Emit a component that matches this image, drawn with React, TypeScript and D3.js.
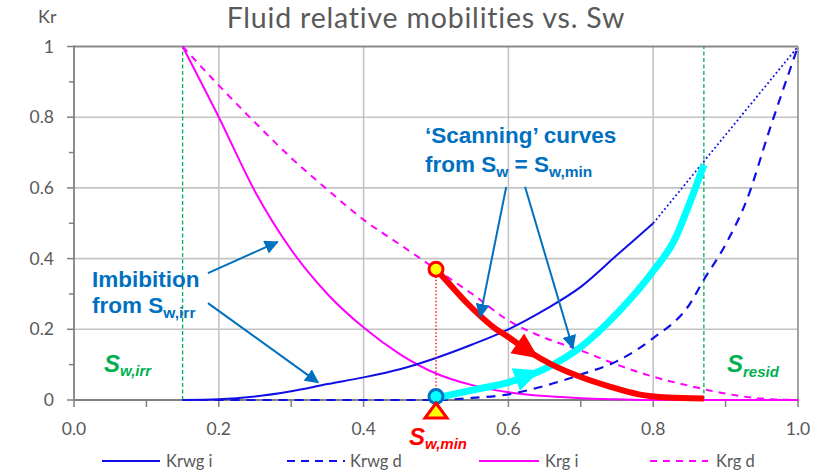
import React from "react";
import * as d3 from "d3";

// ---- Data ----
const swKrwgI = [0.15, 0.2, 0.25, 0.3, 0.35, 0.4, 0.45, 0.5, 0.55, 0.6, 0.65, 0.7, 0.75, 0.8];
const krwgI = [0, 0.002, 0.01, 0.025, 0.045, 0.064, 0.087, 0.119, 0.157, 0.2, 0.255, 0.32, 0.41, 0.5];
const swKrwgExt = [0.8, 1.0];
const krwgExt = [0.5, 1.0];
const swKrwgD = [0.15, 0.5, 0.55, 0.6, 0.65, 0.7, 0.75, 0.8, 0.85, 0.87, 0.9, 0.93, 0.96, 1.0];
const krwgD = [0, 0, 0.006, 0.016, 0.04, 0.072, 0.11, 0.175, 0.27, 0.34, 0.44, 0.57, 0.76, 1.0];
const swKrgI = [0.15, 0.2, 0.25, 0.3, 0.35, 0.4, 0.45, 0.5, 0.55, 0.6, 0.65, 0.7, 0.75, 0.8, 0.9, 1.0];
const krgI = [1.0, 0.8, 0.59, 0.425, 0.3, 0.205, 0.13, 0.075, 0.042, 0.022, 0.011, 0.005, 0.002, 0, 0, 0];
const swKrgD = [0.15, 0.2, 0.25, 0.3, 0.35, 0.4, 0.45, 0.5, 0.55, 0.6, 0.65, 0.7, 0.75, 0.8, 0.85, 0.9, 0.95, 1.0];
const krgD = [1.0, 0.89, 0.785, 0.685, 0.595, 0.51, 0.44, 0.37, 0.3, 0.225, 0.176, 0.14, 0.1, 0.066, 0.04, 0.018, 0.004, 0];
const swScanGas = [0.5, 0.52, 0.54, 0.56, 0.58, 0.6, 0.63, 0.66, 0.7, 0.74, 0.78, 0.82, 0.87];
const scanGas = [0.37, 0.325, 0.28, 0.24, 0.205, 0.178, 0.135, 0.1, 0.065, 0.038, 0.016, 0.007, 0.004];
const swScanWater = [0.5, 0.55, 0.6, 0.65, 0.7, 0.75, 0.8, 0.83, 0.85, 0.87];
const scanWater = [0.006, 0.028, 0.05, 0.088, 0.15, 0.245, 0.365, 0.455, 0.555, 0.665];

const swIrr = 0.15;
const swResid = 0.87;
const swMin = 0.5;
const krStart = 0.37;

const xTicks = [0, 0.2, 0.4, 0.6, 0.8, 1.0];
const xTickLabels = ["0.0", "0.2", "0.4", "0.6", "0.8", "1.0"];
const yTicks = [0, 0.2, 0.4, 0.6, 0.8, 1.0];
const yTickLabels = ["0", "0.2", "0.4", "0.6", "0.8", "1"];
const minorTicks = [0, 0.1, 0.2, 0.3, 0.4, 0.5, 0.6, 0.7, 0.8, 0.9, 1.0];

const legendLabels = ["Krwg i", "Krwg d", "Krg i", "Krg d"];

// annotation arrows in data coordinates [x1,y1,x2,y2]
const imbArrows = [
  [0.185, 0.359, 0.281, 0.447],
  [0.185, 0.274, 0.337, 0.05],
];
const scanArrows = [
  [0.597, 0.603, 0.561, 0.236],
  [0.623, 0.603, 0.689, 0.147],
];

const W = 820;
const H = 476;
const BLUE = "#1010e6";
const MAG = "#ff00ff";
const GRAY_TXT = "#595959";
const ANNO = "#0070c0";
const GREEN = "#00b050";

const x = d3.scaleLinear().domain([0, 1]).range([74, 798]);
const y = d3.scaleLinear().domain([0, 1]).range([400, 46.5]);

function pathOf(xs: number[], ys: number[], curve: any = d3.curveLinear) {
  const pts = xs.map((v, i) => [v, ys[i]] as [number, number]);
  return d3
    .line<[number, number]>()
    .x((d) => x(d[0]))
    .y((d) => y(d[1]))
    .curve(curve)(pts) as string;
}

function arrowHead(xs: number[], ys: number[], sw: number, len: number, wid: number) {
  let i = 0;
  while (i < xs.length - 2 && xs[i + 1] < sw) i++;
  const t = (sw - xs[i]) / (xs[i + 1] - xs[i]);
  const x0 = x(xs[i]), y0 = y(ys[i]), x1 = x(xs[i + 1]), y1 = y(ys[i + 1]);
  const px = x0 + (x1 - x0) * t;
  const py = y0 + (y1 - y0) * t;
  const dx = x1 - x0, dy = y1 - y0;
  const L = Math.hypot(dx, dy);
  const ux = dx / L, uy = dy / L;
  const tipX = px + ux * len * 0.5, tipY = py + uy * len * 0.5;
  const bx = px - ux * len * 0.5, by = py - uy * len * 0.5;
  const nx = -uy, ny = ux;
  return `M${tipX},${tipY}L${bx + nx * wid / 2},${by + ny * wid / 2}L${bx - nx * wid / 2},${by - ny * wid / 2}Z`;
}

export default function App() {
  const tickFont = "Lato, 'Open Sans', sans-serif";
  const boldFont = "'Liberation Sans', Arial, sans-serif";
  const legendItems = [
    { label: legendLabels[0], color: BLUE, dash: "none", x1: 102, x2: 160, tx: 166 },
    { label: legendLabels[1], color: BLUE, dash: "8,6", x1: 287, x2: 345, tx: 350 },
    { label: legendLabels[2], color: MAG, dash: "none", x1: 479, x2: 539, tx: 545 },
    { label: legendLabels[3], color: MAG, dash: "7,6", x1: 650, x2: 708, tx: 716 },
  ];
  return (
    <svg
      width={W}
      height={H}
      style={{ position: "absolute", left: 0, top: 0, background: "#fff" }}
    >
      <defs>
        <marker id="annoArrow" viewBox="0 0 10 10" refX="9" refY="5" markerWidth="7" markerHeight="7" orient="auto" markerUnits="strokeWidth">
          <path d="M0,0 L10,5 L0,10 Z" fill={ANNO} />
        </marker>
      </defs>
      <rect x={0} y={0} width={W} height={H} fill="#fff" />

      {/* Title */}
      <text x={426} y={28} textAnchor="middle" fontFamily={tickFont} fontSize={28.5} letterSpacing={0.8} fill={GRAY_TXT}>
        Fluid relative mobilities vs. Sw
      </text>
      <text x={38} y={23} fontFamily={tickFont} fontSize={18} fill={GRAY_TXT}>
        Kr
      </text>

      {/* Grid */}
      {[0.2, 0.4, 0.6, 0.8].map((v) => (
        <line key={"gx" + v} x1={x(v)} x2={x(v)} y1={y(0)} y2={y(1)} stroke="#c3c3c3" strokeWidth={1.6} />
      ))}
      {[0.2, 0.4, 0.6, 0.8].map((v) => (
        <line key={"gy" + v} x1={x(0)} x2={x(1)} y1={y(v)} y2={y(v)} stroke="#c3c3c3" strokeWidth={1.6} />
      ))}
      {/* border top/right */}
      <line x1={x(0)} x2={x(1)} y1={y(1)} y2={y(1)} stroke="#8a8a8a" strokeWidth={1.8} />
      <line x1={x(1)} x2={x(1)} y1={y(0)} y2={y(1)} stroke="#9a9a9a" strokeWidth={1.8} />

      {/* Axes */}
      <line x1={x(0)} x2={x(0)} y1={y(0) + 0.9} y2={y(1) - 0.9} stroke="#808080" strokeWidth={1.8} />
      <line x1={x(0) - 0.9} x2={x(1) + 0.9} y1={y(0)} y2={y(0)} stroke="#808080" strokeWidth={1.8} />
      {minorTicks.map((v, i) => (
        <line key={"tx" + i} x1={x(v)} x2={x(v)} y1={y(0)} y2={y(0) + 7} stroke="#808080" strokeWidth={1.5} />
      ))}
      {minorTicks.map((v, i) => (
        <line key={"ty" + i} x1={x(0) - (i % 2 === 0 ? 7 : 5)} x2={x(0)} y1={y(v)} y2={y(v)} stroke="#808080" strokeWidth={1.5} />
      ))}
      {xTicks.map((v, i) => (
        <text key={"xl" + i} x={x(v)} y={435} textAnchor="middle" fontFamily={tickFont} fontSize={17.5} fill={GRAY_TXT}>
          {xTickLabels[i]}
        </text>
      ))}
      {yTicks.map((v, i) => (
        <text key={"yl" + i} x={54} y={y(v) + 6} textAnchor="end" fontFamily={tickFont} fontSize={17.5} fill={GRAY_TXT}>
          {yTickLabels[i]}
        </text>
      ))}

      {/* Sw,irr and Sresid lines */}
      {[swIrr, swResid].map((v, i) => (
        <line key={"gl" + i} x1={x(v)} x2={x(v)} y1={y(0)} y2={y(1)} stroke={GREEN} strokeWidth={1.3} strokeDasharray="4,2.5" />
      ))}

      {/* Curves */}
      <path d={pathOf(swKrgD, krgD, d3.curveMonotoneX)} fill="none" stroke={MAG} strokeWidth={2} strokeDasharray="7,6" />
      <path d={pathOf(swKrgI, krgI, d3.curveMonotoneX)} fill="none" stroke={MAG} strokeWidth={2} />
      <path d={pathOf(swKrwgD, krwgD, d3.curveMonotoneX)} fill="none" stroke={BLUE} strokeWidth={2.2} strokeDasharray="9,7" />
      <path d={pathOf(swKrwgI, krwgI, d3.curveMonotoneX)} fill="none" stroke={BLUE} strokeWidth={2} />
      <path d={pathOf(swKrwgExt, krwgExt)} fill="none" stroke={BLUE} strokeWidth={1.8} strokeDasharray="1.8,2.6" />

      {/* Scanning curves */}
      <line x1={x(swMin)} x2={x(swMin)} y1={y(krStart)} y2={y(0)} stroke="#ff0000" strokeWidth={1.3} strokeDasharray="1.5,2" />
      <path d={pathOf(swScanWater, scanWater, d3.curveMonotoneX)} fill="none" stroke="#00ffff" strokeWidth={7} />
      <path d={arrowHead(swScanWater, scanWater, 0.627, 26, 24)} fill="#00ffff" />
      <path d={pathOf(swScanGas, scanGas, d3.curveMonotoneX)} fill="none" stroke="#ff0000" strokeWidth={6} />
      <path d={arrowHead(swScanGas, scanGas, 0.627, 26, 24)} fill="#ff0000" />

      {/* markers */}
      <circle cx={x(swMin)} cy={y(krStart)} r={7} fill="#ffff00" stroke="#ff0000" strokeWidth={3} />
      <circle cx={x(swMin)} cy={y(0.01)} r={7} fill="#00ffff" stroke={ANNO} strokeWidth={3} />
      <path
        d={`M${x(swMin)},${y(0) + 3}L${x(swMin) + 11},${y(0) + 18}L${x(swMin) - 11},${y(0) + 18}Z`}
        fill="#ffff00"
        stroke="#ff0000"
        strokeWidth={3}
        strokeLinejoin="miter"
      />

      {/* annotation arrows */}
      {[...imbArrows, ...scanArrows].map((a, i) => (
        <line
          key={"aa" + i}
          x1={x(a[0])}
          y1={y(a[1])}
          x2={x(a[2])}
          y2={y(a[3])}
          stroke={ANNO}
          strokeWidth={2}
          markerEnd="url(#annoArrow)"
        />
      ))}

      {/* annotation texts */}
      <g fontFamily={boldFont} fontWeight="bold" fill={ANNO}>
        <text x={92} y={287} fontSize={22.5}>Imbibition</text>
        <text x={92} y={313} fontSize={22.5}>
          from S<tspan fontSize={15.5} dy={5}>w,irr</tspan>
        </text>
        <text x={425} y={143} fontSize={22.5}>‘Scanning’ curves</text>
        <text x={425} y={172} fontSize={22.5}>
          from S<tspan fontSize={15.5} dy={5}>w</tspan>
          <tspan dy={-5}> = S</tspan>
          <tspan fontSize={15.5} dy={5}>w,min</tspan>
        </text>
      </g>
      <g fontFamily={boldFont} fontWeight="bold" fontStyle="italic">
        <text x={104} y={372} fill={GREEN} fontSize={24}>
          S<tspan fontSize={15} dy={4}>w,irr</tspan>
        </text>
        <text x={727} y={372} fill={GREEN} fontSize={24}>
          S<tspan fontSize={15} dy={5}>resid</tspan>
        </text>
        <text x={409} y={445} fill="#ff0000" fontSize={24}>
          S<tspan fontSize={15} dy={4}>w,min</tspan>
        </text>
      </g>

      {/* legend */}
      {legendItems.map((it, i) => (
        <g key={"lg" + i}>
          <line x1={it.x1} x2={it.x2} y1={461} y2={461} stroke={it.color} strokeWidth={2.2} strokeDasharray={it.dash} />
          <text x={it.tx} y={467} fontFamily={tickFont} fontSize={16.5} fill={GRAY_TXT}>
            {it.label}
          </text>
        </g>
      ))}
    </svg>
  );
}
